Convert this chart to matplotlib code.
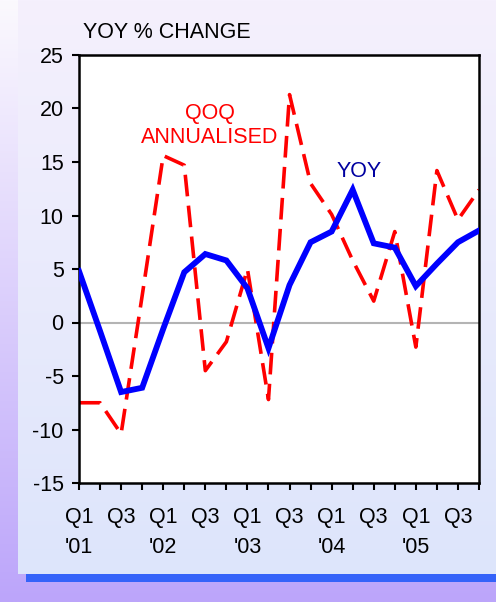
import matplotlib
matplotlib.use("Agg")
import matplotlib.pyplot as plt
import numpy as np
from matplotlib.colors import LinearSegmentedColormap
from matplotlib.patches import Rectangle

plt.rcParams['font.family'] = ['Liberation Sans', 'DejaVu Sans']

# quarters Q1'01 .. Q4'05
quarters = ["Q1\n'01", "", "Q3", "",
            "Q1\n'02", "", "Q3", "",
            "Q1\n'03", "", "Q3", "",
            "Q1\n'04", "", "Q3", "",
            "Q1\n'05", "", "Q3", ""]
yoy = [4.8, -0.8, -6.5, -6.1, -0.6, 4.7, 6.4, 5.8, 3.2, -2.4,
       3.5, 7.5, 8.5, 12.4, 7.4, 7.0, 3.4, 5.5, 7.5, 8.6]
qoq = [-7.5, -7.5, -10.4, 2.5, 15.6, 14.7, -4.5, -1.8, 5.0, -7.2,
       21.3, 13.0, 10.1, 5.8, 2.0, 8.5, -2.3, 14.2, 9.6, 12.4]
yTicks = [-15, -10, -5, 0, 5, 10, 15, 20, 25]

W, H = 496, 602
fs = 15.5
fig = plt.figure(figsize=(W / 100, H / 100), dpi=100)

# background
bg = fig.add_axes([0, 0, 1, 1])
bg.set_xlim(0, W)
bg.set_ylim(H, 0)
bg.axis("off")
outerCmap = LinearSegmentedColormap.from_list("outer", ["#fbf9fe", "#bca5fa"])
panelCmap = LinearSegmentedColormap.from_list("panel", ["#f5f0fd", "#dde5fb"])
grad = np.linspace(0, 1, 256).reshape(-1, 1)
bg.imshow(grad, cmap=outerCmap, extent=[0, W, H, 0], aspect="auto")
bg.imshow(grad, cmap=panelCmap, extent=[18, W, 574, 0], aspect="auto")
bg.add_patch(Rectangle((26, 574), W - 26, 8, color="#3563f9", lw=0))

ax = fig.add_axes([79 / W, 1 - 483 / H, 400 / W, 428 / H])
ax.set_facecolor("white")
x = np.arange(len(quarters))

ax.axhline(0, color="#b4b4b4", lw=1.5, zorder=1)
ax.plot(x, qoq, color="#ff0000", lw=2.6, dashes=(6, 2.6), zorder=2)
ax.plot(x, yoy, color="#0000ff", lw=4.2, zorder=3, solid_joinstyle="miter")

ax.set_xlim(0, len(quarters) - 1)
ax.set_ylim(-15, 25)
ax.set_yticks(yTicks)
ax.set_yticklabels([str(v) for v in yTicks], fontsize=fs)
ax.set_xticks(x)
ax.set_xticklabels(quarters, fontsize=fs, linespacing=1.6, va="top")
ax.tick_params(axis="both", direction="out", length=5, width=1.5, colors="black")
ax.tick_params(axis="x", pad=12)
ax.tick_params(axis="y", pad=6)
for s in ax.spines.values():
    s.set_linewidth(1.8)

fig.text(83 / W, 1 - 33 / H, "YOY % CHANGE", fontsize=fs, va="center", ha="left")
ax.text(6.2, 18.4, "QOQ\nANNUALISED", color="#ff0000", fontsize=fs,
        ha="center", va="center", linespacing=1.15)
ax.text(13.3, 14.1, "YOY", color="#0000a0", fontsize=fs, ha="center", va="center")

fig.savefig("out.png", dpi=100)
